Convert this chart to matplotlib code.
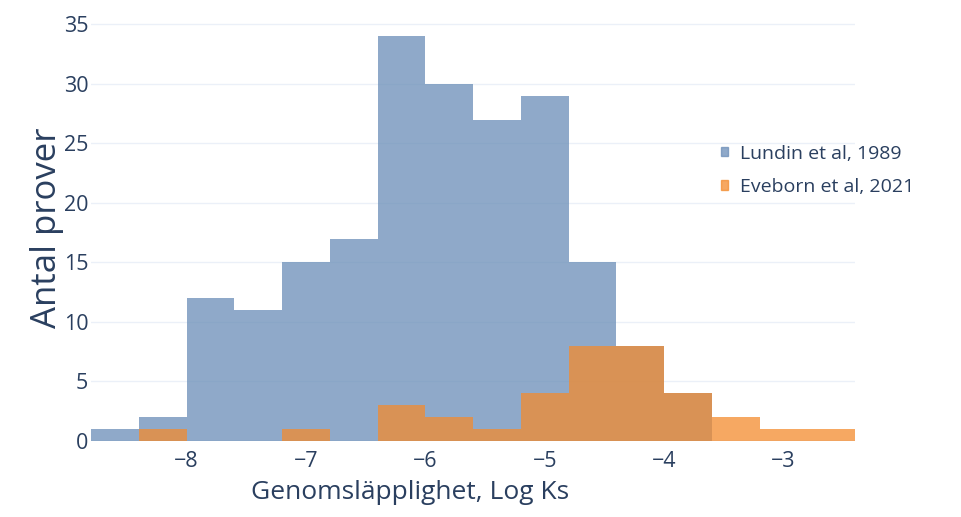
import numpy as np
import matplotlib
matplotlib.use("Agg")
import matplotlib.pyplot as plt
from matplotlib.patches import Patch

plt.rcParams['font.family'] = ['Open Sans', 'DejaVu Sans']

# histogram data (log Ks, bin width 0.4)
bin_edges = [-8.8, -8.4, -8.0, -7.6, -7.2, -6.8, -6.4, -6.0, -5.6,
             -5.2, -4.8, -4.4, -4.0, -3.6, -3.2, -2.8, -2.4]
lundin_counts = [1, 2, 12, 11, 15, 17, 34, 30, 27, 29, 15, 8, 4, 0, 0, 0]
eveborn_counts = [0, 1, 0, 0, 1, 0, 3, 2, 1, 4, 8, 8, 4, 2, 1, 1]
series_names = ["Lundin et al, 1989", "Eveborn et al, 2021"]
x_ticks = [-8, -7, -6, -5, -4, -3]
y_ticks = [0, 5, 10, 15, 20, 25, 30, 35]

BLUE = "#6a8db7"
ORANGE = "#f38b2e"
ALPHA = 0.75
TEXT = "#2a3f5f"
GRID = "#ebf0f8"

fig = plt.figure(figsize=(9.61, 5.17), dpi=100)
ax = fig.add_axes([91/961, 76/517, (855-91)/961, (502-76)/517])

# overlay histograms, orange on top of blue
ax.stairs(lundin_counts, bin_edges, fill=True, color=BLUE, alpha=ALPHA,
          linewidth=0, zorder=2)
ax.stairs(eveborn_counts, bin_edges, fill=True, color=ORANGE, alpha=ALPHA,
          linewidth=0, zorder=3)

ax.set_xlim(bin_edges[0], bin_edges[-1])
ax.set_ylim(0, 35.79)
ax.set_xticks(x_ticks)
ax.set_xticklabels(["\u2212%d" % abs(t) for t in x_ticks])
ax.set_yticks(y_ticks)

for s in ax.spines.values():
    s.set_visible(False)
ax.grid(axis='y', color=GRID, linewidth=1, zorder=0)
ax.axhline(0, color=GRID, linewidth=2, zorder=1)
ax.tick_params(length=0, labelsize=15.5, labelcolor=TEXT)
ax.tick_params(axis='y', pad=2)
ax.tick_params(axis='x', pad=7)

ax.set_xlabel("Genomsläpplighet, Log Ks", fontsize=19, color=TEXT, va='center')
ax.xaxis.set_label_coords(0.418, -0.122)
ax.set_ylabel("Antal prover", fontsize=25, color=TEXT, va='center')
ax.yaxis.set_label_coords(-0.057, 0.5)

handles = [Patch(color=BLUE, alpha=ALPHA), Patch(color=ORANGE, alpha=ALPHA)]
leg = fig.legend(handles, series_names, loc='upper left',
                 bbox_to_anchor=(703/961, 1 - 127/517), frameon=False,
                 fontsize=14, handlelength=0.4, handleheight=0.4,
                 handletextpad=0.6, labelspacing=0.8, labelcolor=TEXT)

fig.savefig("out.png", dpi=100)
